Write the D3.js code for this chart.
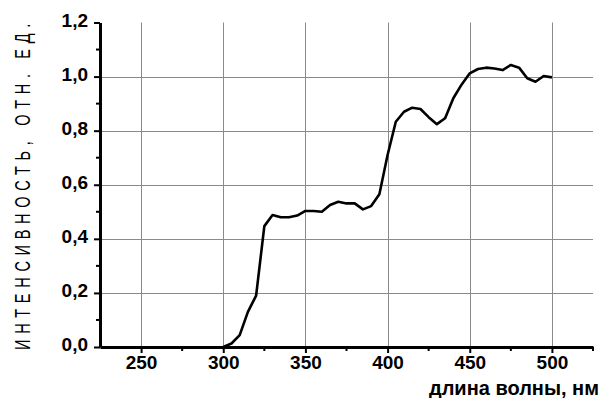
<!DOCTYPE html>
<html lang="en">
<head>
<meta charset="UTF-8">
<style>
    body { margin: 0; background: #fff; }
    .grid line { stroke: #8a8a8a; stroke-width: 1px; }
    .axis path, .axis line { stroke: #000; }
    .axis text { font-family: "Liberation Sans", Arial, sans-serif; font-weight: bold; font-size: 19px; fill: #000; }
</style>
<title>spectrum</title>
</head>
<body>
<div id="chart"></div>
<script src="https://cdn.jsdelivr.net/npm/d3@7/dist/d3.min.js"></script>
<script>
    var wavelength = [300, 305, 310, 315, 320, 325, 330, 335, 340, 345, 350, 355, 360, 365, 370, 375, 380, 385, 390, 395,
        400, 405, 410, 415, 420, 425, 430, 435, 440, 445, 450, 455, 460, 465, 470, 475, 480, 485, 490, 495, 500];
    var intensity = [0.0, 0.013, 0.044, 0.13, 0.19, 0.447, 0.488, 0.48, 0.48, 0.486, 0.503, 0.503, 0.50, 0.525, 0.537, 0.531, 0.531, 0.509, 0.521, 0.565,
        0.71, 0.833, 0.87, 0.885, 0.88, 0.85, 0.824, 0.846, 0.92, 0.97, 1.012, 1.028, 1.033, 1.03, 1.024, 1.043, 1.033, 0.994, 0.981, 1.002, 0.997];
    var xTicks = [250, 300, 350, 400, 450, 500];
    var yTicks = [0, 0.2, 0.4, 0.6, 0.8, 1.0, 1.2];

    var width = 601, height = 398;
    var mLeft = 100, mRight = 593, mTop = 22.5, mBottom = 347;

    var svg = d3.select("#chart").append("svg")
        .attr("width", width)
        .attr("height", height);

    var x = d3.scaleLinear().domain([225, 525]).range([mLeft, mRight]);
    var y = d3.scaleLinear().domain([0, 1.2]).range([mBottom, mTop]);

    // grid
    var grid = svg.append("g").attr("class", "grid");
    grid.selectAll(".vg").data(xTicks).enter().append("line")
        .attr("x1", function(d) { return Math.round(x(d)) + 0.5; })
        .attr("x2", function(d) { return Math.round(x(d)) + 0.5; })
        .attr("y1", mTop).attr("y2", mBottom);
    grid.selectAll(".hg").data(yTicks.filter(function(d) { return d > 0 && d < 1.2; })).enter().append("line")
        .attr("y1", function(d) { return Math.round(y(d)) + 0.5; })
        .attr("y2", function(d) { return Math.round(y(d)) + 0.5; })
        .attr("x1", mLeft).attr("x2", mRight);

    // axes
    var fmt = function(d) { return d3.format(".1f")(d).replace(".", ","); };
    var xMinor = d3.range(275, 526, 50);
    var yMinor = d3.range(0.1, 1.2, 0.2);

    var gx = svg.append("g").attr("class", "axis")
        .attr("transform", "translate(0," + mBottom + ")")
        .call(d3.axisBottom(x).tickValues(xTicks).tickSize(6).tickSizeOuter(0).tickPadding(3));
    gx.select(".domain").attr("stroke-width", 3);
    gx.selectAll(".tick line").attr("stroke-width", 2);
    gx.selectAll(".minor").data(xMinor).enter().append("line")
        .attr("x1", function(d) { return x(d); }).attr("x2", function(d) { return x(d); })
        .attr("y1", 0).attr("y2", 4).attr("stroke", "#000").attr("stroke-width", 2);

    var gy = svg.append("g").attr("class", "axis")
        .attr("transform", "translate(" + mLeft + ",0)")
        .call(d3.axisLeft(y).tickValues(yTicks).tickFormat(fmt).tickSize(6).tickSizeOuter(0).tickPadding(6));
    gy.select(".domain").attr("stroke-width", 3);
    gy.selectAll(".tick line").attr("stroke-width", 2);
    gy.selectAll(".tick text").attr("dy", "0.2em");
    gy.selectAll(".minor").data(yMinor).enter().append("line")
        .attr("y1", function(d) { return y(d); }).attr("y2", function(d) { return y(d); })
        .attr("x1", 0).attr("x2", -4).attr("stroke", "#000").attr("stroke-width", 2);

    // curve
    var pts = wavelength.map(function(w, i) { return [w, intensity[i]]; });
    svg.append("path")
        .datum(pts)
        .attr("fill", "none")
        .attr("stroke", "#000")
        .attr("stroke-width", 2.6)
        .attr("stroke-linejoin", "round")
        .attr("d", d3.line().x(function(d) { return x(d[0]); }).y(function(d) { return y(d[1]); }));

    // y title: tall narrow letters, spread out
    var yLabel = "ИНТЕНСИВНОСТЬ, ОТН. ЕД.";
    var yTitle = svg.append("text")
        .attr("transform", "translate(30,184) rotate(-90) scale(0.66,1)")
        .attr("text-anchor", "middle")
        .style("font-family", "Liberation Sans, Arial, sans-serif")
        .style("font-size", "22px")
        .text(yLabel);
    var natural = yTitle.node().getComputedTextLength();
    yTitle.style("letter-spacing", ((332 / 0.66 - natural) / yLabel.length) + "px");

    svg.append("text")
        .attr("x", 599).attr("y", 395)
        .attr("text-anchor", "end")
        .style("font-family", "Liberation Sans, Arial, sans-serif")
        .style("font-weight", "bold")
        .style("font-size", "20px")
        .text("длина волны, нм");
</script>
</body>
</html>
